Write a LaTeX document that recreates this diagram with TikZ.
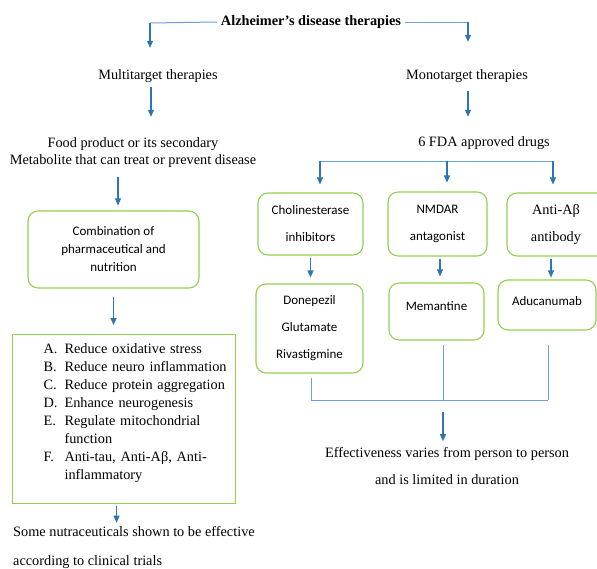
\documentclass[tikz,border=0pt]{standalone}
\usepackage{fontspec}
\setmainfont{Liberation Serif}
\newfontfamily\boxfont{Carlito}
\usepackage{xcolor}
\usetikzlibrary{arrows.meta}
\definecolor{arrowblue}{RGB}{46,117,182}
\definecolor{lineblue}{RGB}{110,160,215}
\definecolor{boxgreen}{RGB}{146,208,80}

\begin{document}
\begin{tikzpicture}[x=1pt,y=-1pt,>={Triangle[length=7pt,width=6pt]},
 txt/.style={align=center,inner sep=2pt,font=\fontsize{14.3}{17}\selectfont},
 box/.style={draw=boxgreen,line width=1.1pt,rounded corners=10pt,align=center,inner sep=2pt,font=\boxfont\fontsize{13}{27}\selectfont},
 arrow/.style={->,line width=1.1pt,draw=arrowblue},
 link/.style={line width=1pt,draw=lineblue}]
\useasboundingbox (0,0) rectangle (597,568);
% left branch
\node[txt,inner sep=4pt,font=\bfseries\fontsize{14.3}{17}\selectfont] (title) at (311,22) {Alzheimer’s disease therapies};
\node[txt] (multi) at (158,76) {Multitarget therapies};
\node[txt] (food) at (133,152.5) {Food product or its secondary\\Metabolite that can treat or prevent disease};
\node[box,minimum width=171,minimum height=77,font=\boxfont\fontsize{13}{18}\selectfont] (comb) at (113.5,249.5) {Combination of\\pharmaceutical and\\nutrition};
\node[draw=boxgreen,line width=1.1pt,inner xsep=0pt,inner ysep=6pt,text width=223pt,align=left,anchor=north west,font=\fontsize{14.3}{18}\selectfont] (list) at (12,334) {\hspace*{31pt}\begin{tabular}[t]{@{}p{21pt}@{}l@{}}
A. & Reduce oxidative stress\\
B. & Reduce neuro inflammation\\
C. & Reduce protein aggregation\\
D. & Enhance neurogenesis\\
E. & Regulate mitochondrial\\
 & function\\
F. & Anti-tau, Anti-Aβ, Anti-\\
 & inflammatory\rule[-18.4pt]{0pt}{0pt}
\end{tabular}};
\node[txt,align=left,anchor=west,font=\fontsize{14.3}{29}\selectfont] (some) at (11,547.5) {Some nutraceuticals shown to be effective\\according to clinical trials};
% right branch
\node[txt] (mono) at (467,76) {Monotarget therapies};
\node[txt] (fda) at (484,143) {6 FDA approved drugs};
\node[box,minimum width=105,minimum height=62] (chol) at (310.5,224) {Cholinesterase\\inhibitors};
\node[box,minimum width=99,minimum height=64] (nmdar) at (437.5,224) {NMDAR\\antagonist};
\node[box,minimum width=103,minimum height=63,font=\fontsize{14.3}{27}\selectfont] (anti) at (558.5,224.5) {\hspace*{-5pt}Anti-Aβ\\\hspace*{-5pt}antibody};
\node[box,minimum width=107,minimum height=89] (done) at (309.5,328.5) {Donepezil\\Glutamate\\Rivastigmine};
\node[box,minimum width=95,minimum height=57] (mem) at (436.5,311.5) {\raisebox{0pt}[\height][\dimexpr\depth+11pt]{Memantine}};
\node[box,minimum width=98,minimum height=50] (adu) at (547,305) {\raisebox{0pt}[\height][\dimexpr\depth+8pt]{Aducanumab}};
\node[txt,font=\fontsize{14.3}{27}\selectfont] (eff) at (447,466.5) {Effectiveness varies from person to person\\and is limited in duration};
% forks and joins
\coordinate (ml) at (150,23);
\coordinate (mr) at (468,22);
\coordinate (bl) at (320,161);
\coordinate (bm) at (447,161);
\coordinate (br) at (553,161);
\coordinate (jl) at (311,400);
\coordinate (jm) at (443,400);
\coordinate (jr) at (548,400);
% connectors
\draw[link] (title.west) -- (ml);
\draw[link] (title.east) -- (mr);
\draw[arrow,shorten >=19.5pt] (ml) -- (ml |- multi.north);
\draw[arrow,shorten >=25.5pt] (mr) -- (mr |- mono.north);
\draw[arrow,shorten <=2.5pt,shorten >=18.5pt] ([xshift=-7pt]multi.south) -- ([xshift=-7pt]multi.south |- food.north);
\draw[arrow,shorten <=6.5pt,shorten >=17.5pt] ([xshift=1pt]mono.south) -- ([xshift=1pt]mono.south |- fda.north);
\draw[arrow,shorten <=7.5pt,shorten >=5pt] ([xshift=4.5pt]comb.north |- food.south) -- ([xshift=4.5pt]comb.north);
\draw[arrow,shorten <=8pt,shorten >=9pt] (comb.south) -- (comb.south |- list.north);
\draw[arrow,shorten <=2pt,shorten >=1.5pt] ([xshift=-7.5pt]list.south) -- ([xshift=-7.5pt]list.south |- some.north);
\draw[link] (bl) -- (br);
\draw[arrow,shorten >=8pt] (bl) -- (bl |- chol.north);
\draw[arrow,shorten >=9pt] (bm) -- (bm |- nmdar.north);
\draw[arrow,shorten >=8pt] (br) -- (br |- anti.north);
\draw[arrow,shorten <=2pt,shorten >=6pt] (chol.south) -- (chol.south |- done.north);
\draw[arrow,shorten <=2pt,shorten >=6pt] ([xshift=2.5pt]nmdar.south) -- ([xshift=2.5pt]nmdar.south |- mem.north);
\draw[arrow,shorten <=2pt,shorten >=2pt] ([xshift=-7.5pt]anti.south) -- ([xshift=-7.5pt]anti.south |- adu.north);
\draw[link,shorten <=4pt] (jl |- done.south) -- (jl);
\draw[link,shorten <=4pt] (jm |- mem.south) -- (jm);
\draw[link,shorten <=14pt] (jr |- adu.south) -- (jr);
\draw[link] (jl) -- (jr);
\draw[arrow,shorten <=12pt,shorten >=4.5pt] (jm) -- (jm |- eff.north);
\end{tikzpicture}
\end{document}
